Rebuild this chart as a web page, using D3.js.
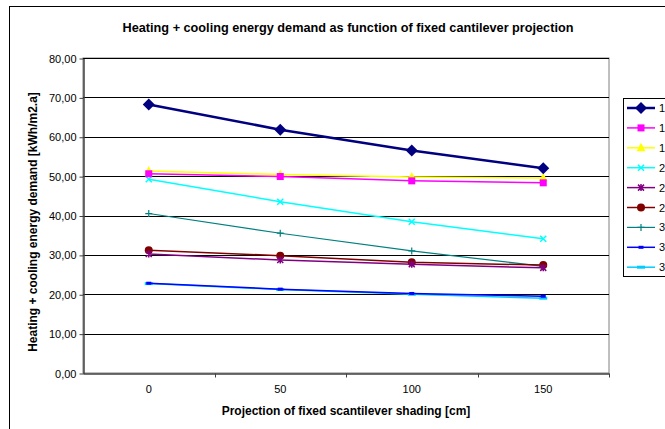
<!DOCTYPE html>
<html>
<head>
    <script src="https://d3js.org/d3.v7.min.js" charset="utf-8"></script>
    <style>
        body { margin: 0; background: white; }
        text { font-family: Arial, "Liberation Sans", sans-serif; }
    </style>
</head>
<body>
   <script>
        // data
        var categories = ["0", "50", "100", "150"];
        var seriesNames = ["1", "1", "1", "2", "2", "2", "3", "3", "3"];
        var s1 = [68.2, 61.8, 56.5, 52.0];
        var s2 = [50.6, 49.9, 48.8, 48.3];
        var s3 = [51.3, 50.4, 49.8, 49.5];
        var s4 = [49.2, 43.5, 38.4, 34.1];
        var s5 = [30.2, 28.7, 27.6, 26.7];
        var s6 = [31.2, 29.8, 28.1, 27.4];
        var s7 = [40.5, 35.5, 31.0, 27.1];
        var s8 = [22.8, 21.3, 20.2, 19.5];
        var s9 = [22.7, 21.2, 20.0, 19.0];
        var yTicks = [0, 10, 20, 30, 40, 50, 60, 70, 80];

        var colors = ["#000080", "#ff00ff", "#ffff00", "#00ffff", "#800080", "#800000", "#008080", "#0000ff", "#00ccff"];
        var markers = ["diamond", "square", "triangle", "x", "star", "circle", "plus", "dash", "longdash"];
        var widths = [2.5, 1.5, 1.5, 1.5, 1.5, 1.5, 1.2, 1.5, 1.5];
        var allSeries = [s1, s2, s3, s4, s5, s6, s7, s8, s9];

        var svg = d3.select("body")
            .append("svg")
            .attr("width", 665)
            .attr("height", 429);

        // chart area border
        svg.append("rect")
            .attr("x", 9.5).attr("y", 6.5)
            .attr("width", 700).attr("height", 500)
            .style("fill", "white").style("stroke", "black");

        var plotLeft = 83, plotRight = 609, plotTop = 58, plotBottom = 373;
        var x = d3.scaleBand().domain(categories).range([plotLeft, plotRight]);
        var y = d3.scaleLinear().domain([0, 80]).range([plotBottom, plotTop]);

        // plot area
        svg.append("rect")
            .attr("x", plotLeft).attr("y", plotTop)
            .attr("width", plotRight - plotLeft).attr("height", plotBottom - plotTop)
            .style("fill", "white").style("stroke", "#808080");

        svg.append("g")
            .selectAll("line")
            .data(yTicks.slice(1))
            .enter()
            .append("line")
            .attr("x1", plotLeft).attr("x2", plotRight)
            .attr("y1", function (d) { return Math.round(y(d)) + 0.5; })
            .attr("y2", function (d) { return Math.round(y(d)) + 0.5; })
            .style("stroke", "black");

        var fmt = function (d) { return d3.format(".2f")(d).replace(".", ","); };
        var yAxis = svg.append("g")
            .attr("transform", "translate(" + (plotLeft + 0.5) + ",0.5)")
            .call(d3.axisLeft(y).tickValues(yTicks).tickFormat(fmt).tickSize(4).tickSizeOuter(0).tickPadding(3));
        yAxis.select(".domain").style("stroke", "#404040").style("stroke-width", 1.5);
        yAxis.selectAll("line").style("stroke", "#404040");
        yAxis.selectAll("text").style("font-size", "11px").style("fill", "black");

        var xAxis = svg.append("g")
            .attr("transform", "translate(0," + (plotBottom + 0.5) + ")")
            .call(d3.axisBottom(x).tickSize(0).tickPadding(12));
        xAxis.select(".domain").style("stroke", "#404040").style("stroke-width", 1.5);
        xAxis.selectAll("text").style("font-size", "11px").style("fill", "black");
        // tick marks on band boundaries
        xAxis.selectAll("line.bound")
            .data(categories)
            .enter()
            .append("line")
            .attr("class", "bound")
            .attr("x1", function (d) { return Math.round(x(d) + x.bandwidth()) + 0.5; })
            .attr("x2", function (d) { return Math.round(x(d) + x.bandwidth()) + 0.5; })
            .attr("y1", 0).attr("y2", 4)
            .style("stroke", "#404040");

        function cx(d, i) { return x(categories[i]) + x.bandwidth() / 2; }

        function drawMarker(g, type, color, px, py) {
            if (type == "diamond") {
                g.append("path").attr("d", "M" + px + "," + (py - 6) + "L" + (px + 6) + "," + py + "L" + px + "," + (py + 6) + "L" + (px - 6) + "," + py + "Z")
                    .style("fill", color);
            } else if (type == "square") {
                g.append("rect").attr("x", px - 3.5).attr("y", py - 3.5).attr("width", 7).attr("height", 7).style("fill", color);
            } else if (type == "triangle") {
                g.append("path").attr("d", "M" + px + "," + (py - 5) + "L" + (px + 4.5) + "," + (py + 3.5) + "L" + (px - 4.5) + "," + (py + 3.5) + "Z")
                    .style("fill", color);
            } else if (type == "x") {
                g.append("path").attr("d", "M" + (px - 3) + "," + (py - 3) + "L" + (px + 3) + "," + (py + 3) + "M" + (px + 3) + "," + (py - 3) + "L" + (px - 3) + "," + (py + 3))
                    .style("stroke", color).style("stroke-width", 1.5);
            } else if (type == "star") {
                g.append("path").attr("d", "M" + (px - 3) + "," + (py - 3) + "L" + (px + 3) + "," + (py + 3) + "M" + (px + 3) + "," + (py - 3) + "L" + (px - 3) + "," + (py + 3) + "M" + px + "," + (py - 3.5) + "L" + px + "," + (py + 3.5))
                    .style("stroke", color).style("stroke-width", 1.5);
            } else if (type == "circle") {
                g.append("circle").attr("cx", px).attr("cy", py).attr("r", 4).style("fill", color);
            } else if (type == "plus") {
                g.append("path").attr("d", "M" + (px - 3.5) + "," + py + "L" + (px + 3.5) + "," + py + "M" + px + "," + (py - 3.5) + "L" + px + "," + (py + 3.5))
                    .style("stroke", color).style("stroke-width", 1.2);
            } else if (type == "dash") {
                g.append("rect").attr("x", px - 2.5).attr("y", py - 1.5).attr("width", 5).attr("height", 3).style("fill", color);
            } else if (type == "longdash") {
                g.append("rect").attr("x", px - 4).attr("y", py - 1.5).attr("width", 8).attr("height", 3).style("fill", color);
            }
        }

        var line = d3.line()
            .x(cx)
            .y(function (d) { return y(d); });

        // draw in reverse so the first series sits on top
        for (var k = allSeries.length - 1; k >= 0; k--) {
            var g = svg.append("g").attr("class", "series");
            g.append("path")
                .datum(allSeries[k])
                .attr("d", line)
                .style("fill", "none")
                .style("stroke", colors[k])
                .style("stroke-width", widths[k]);
            allSeries[k].forEach(function (v, i) {
                drawMarker(g, markers[k], colors[k], cx(v, i), y(v));
            });
        }

        // legend (runs off the right edge like the reference)
        var legend = svg.append("g");
        legend.append("rect")
            .attr("x", 623.5).attr("y", 98.5)
            .attr("width", 80).attr("height", 178)
            .style("fill", "white").style("stroke", "black");
        seriesNames.forEach(function (name, k) {
            var ly = 108 + k * 19.9;
            legend.append("line")
                .attr("x1", 627).attr("x2", 655)
                .attr("y1", ly).attr("y2", ly)
                .style("stroke", colors[k])
                .style("stroke-width", widths[k]);
            drawMarker(legend, markers[k], colors[k], 641, ly);
            legend.append("text")
                .attr("x", 659).attr("y", ly + 4)
                .style("font-size", "11px")
                .text(name);
        });

        svg.append("text")
            .attr("x", 348).attr("y", 32)
            .attr("text-anchor", "middle")
            .style("font-size", "12.7px").style("font-weight", "bold")
            .text("Heating + cooling energy demand as function of fixed cantilever projection");

        svg.append("text")
            .attr("x", 346).attr("y", 415)
            .attr("text-anchor", "middle")
            .style("font-size", "12px").style("font-weight", "bold")
            .text("Projection of fixed scantilever shading [cm]");

        svg.append("text")
            .attr("transform", "translate(37,222) rotate(-90)")
            .attr("text-anchor", "middle")
            .style("font-size", "12px").style("font-weight", "bold")
            .text("Heating + cooling energy demand [kWh/m2.a]");
    </script>
</body>
</html>
